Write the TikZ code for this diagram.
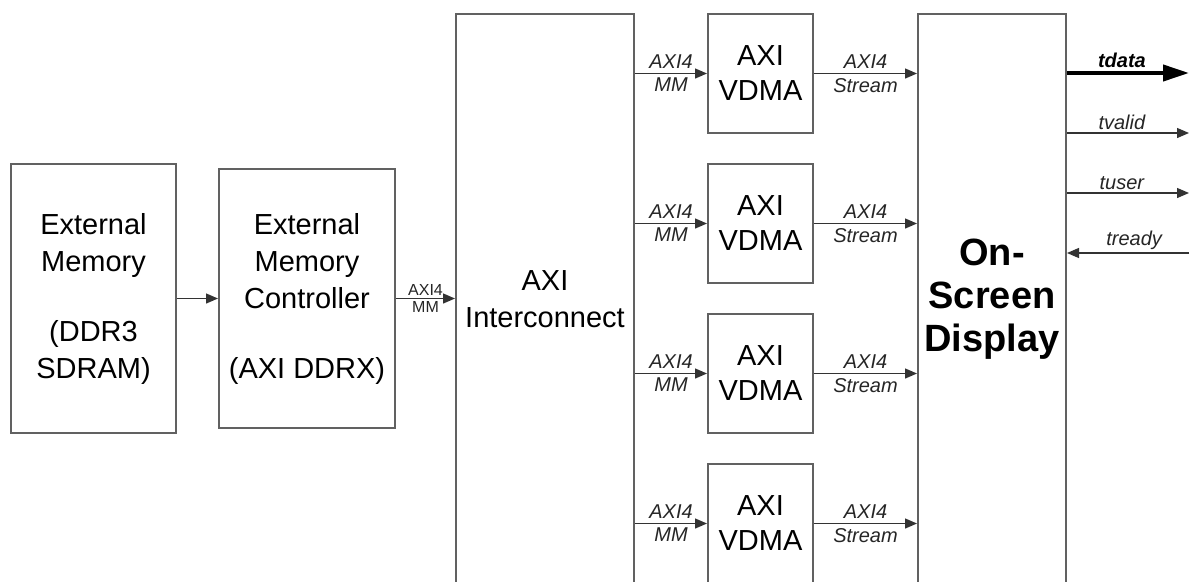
\documentclass[tikz,border=0pt]{standalone}
\usepackage{fontspec}
\setmainfont{Liberation Sans}
\usetikzlibrary{arrows.meta}
\begin{document}
\begin{tikzpicture}[x=1pt,y=-1pt,
  box/.style={draw=black!62, line width=2pt, rectangle, anchor=north west, inner sep=0pt, align=center, font=\fontsize{29}{37}\selectfont},
  arr/.style={draw=black!80, line width=1.3pt, -{Triangle[length=12pt,width=10pt]}},
  lbl/.style={font=\fontsize{20}{22}\selectfont\itshape, inner sep=4pt, text=black!85},
  sig/.style={font=\fontsize{20}{22}\selectfont\itshape, inner sep=3pt, text=black!85}]
\useasboundingbox (0,0) rectangle (1191,581);
\clip (0,0) rectangle (1191,581);
\fill[white] (0,0) rectangle (1191,581);

\node[box, minimum width=165pt, minimum height=269pt] (mem) at (10,163)
  {External\\Memory\\[33pt](DDR3\\SDRAM)};
\node[box, minimum width=176pt, minimum height=259pt] (ctrl) at (218,168)
  {External\\Memory\\Controller\\[33pt](AXI DDRX)};
\node[box, minimum width=178pt, minimum height=570pt] (ic) at (455,13)
  {AXI\\Interconnect};
\node[box, minimum width=148pt, minimum height=570pt, font=\fontsize{38}{43}\selectfont\bfseries] (osd) at (917,13)
  {On-\\Screen\\Display};

\node[box, minimum width=105pt, minimum height=119pt, font=\fontsize{29}{35}\selectfont] (v1) at (707,13) {AXI\\VDMA};
\node[box, minimum width=105pt, minimum height=119pt, font=\fontsize{29}{35}\selectfont] (v2) at (707,163) {AXI\\VDMA};
\node[box, minimum width=105pt, minimum height=119pt, font=\fontsize{29}{35}\selectfont] (v3) at (707,313) {AXI\\VDMA};
\node[box, minimum width=105pt, minimum height=119pt, font=\fontsize{29}{35}\selectfont] (v4) at (707,463) {AXI\\VDMA};

\draw[arr] (mem.east) -- (ctrl.west);
\draw[arr] (ctrl.east) -- (ic.west |- ctrl.east)
  node[midway, above, inner sep=2pt, font=\fontsize{16}{18}\selectfont, text=black!85] {AXI4}
  node[midway, below, inner sep=2pt, font=\fontsize{16}{18}\selectfont, text=black!85] {MM};

\foreach \v in {v1,v2,v3,v4}{
  \draw[arr] (ic.east |- \v.west) -- (\v.west)
    node[midway, above, lbl] {AXI4}
    node[midway, below, lbl] {MM};
  \draw[arr] (\v.east) -- (osd.west |- \v.east)
    node[midway, above, lbl] {AXI4}
    node[midway, below, lbl] {Stream};
}

\coordinate (td) at (1189,73);
\coordinate (tv) at (1189,133);
\coordinate (tu) at (1189,193);
\coordinate (tr) at (1189,253);
\draw[draw=black, line width=4pt, -{Triangle[length=26pt,width=16pt]}] (osd.east |- td) -- (td)
  node[pos=0.45, above, sig, font=\fontsize{20}{22}\selectfont\bfseries\itshape, text=black] {tdata};
\draw[arr] (osd.east |- tv) -- (tv) node[pos=0.45, above, sig] {tvalid};
\draw[arr] (osd.east |- tu) -- (tu) node[pos=0.45, above, sig] {tuser};
\draw[arr] (tr) -- (osd.east |- tr) node[pos=0.45, above, sig] {tready};
\end{tikzpicture}
\end{document}
